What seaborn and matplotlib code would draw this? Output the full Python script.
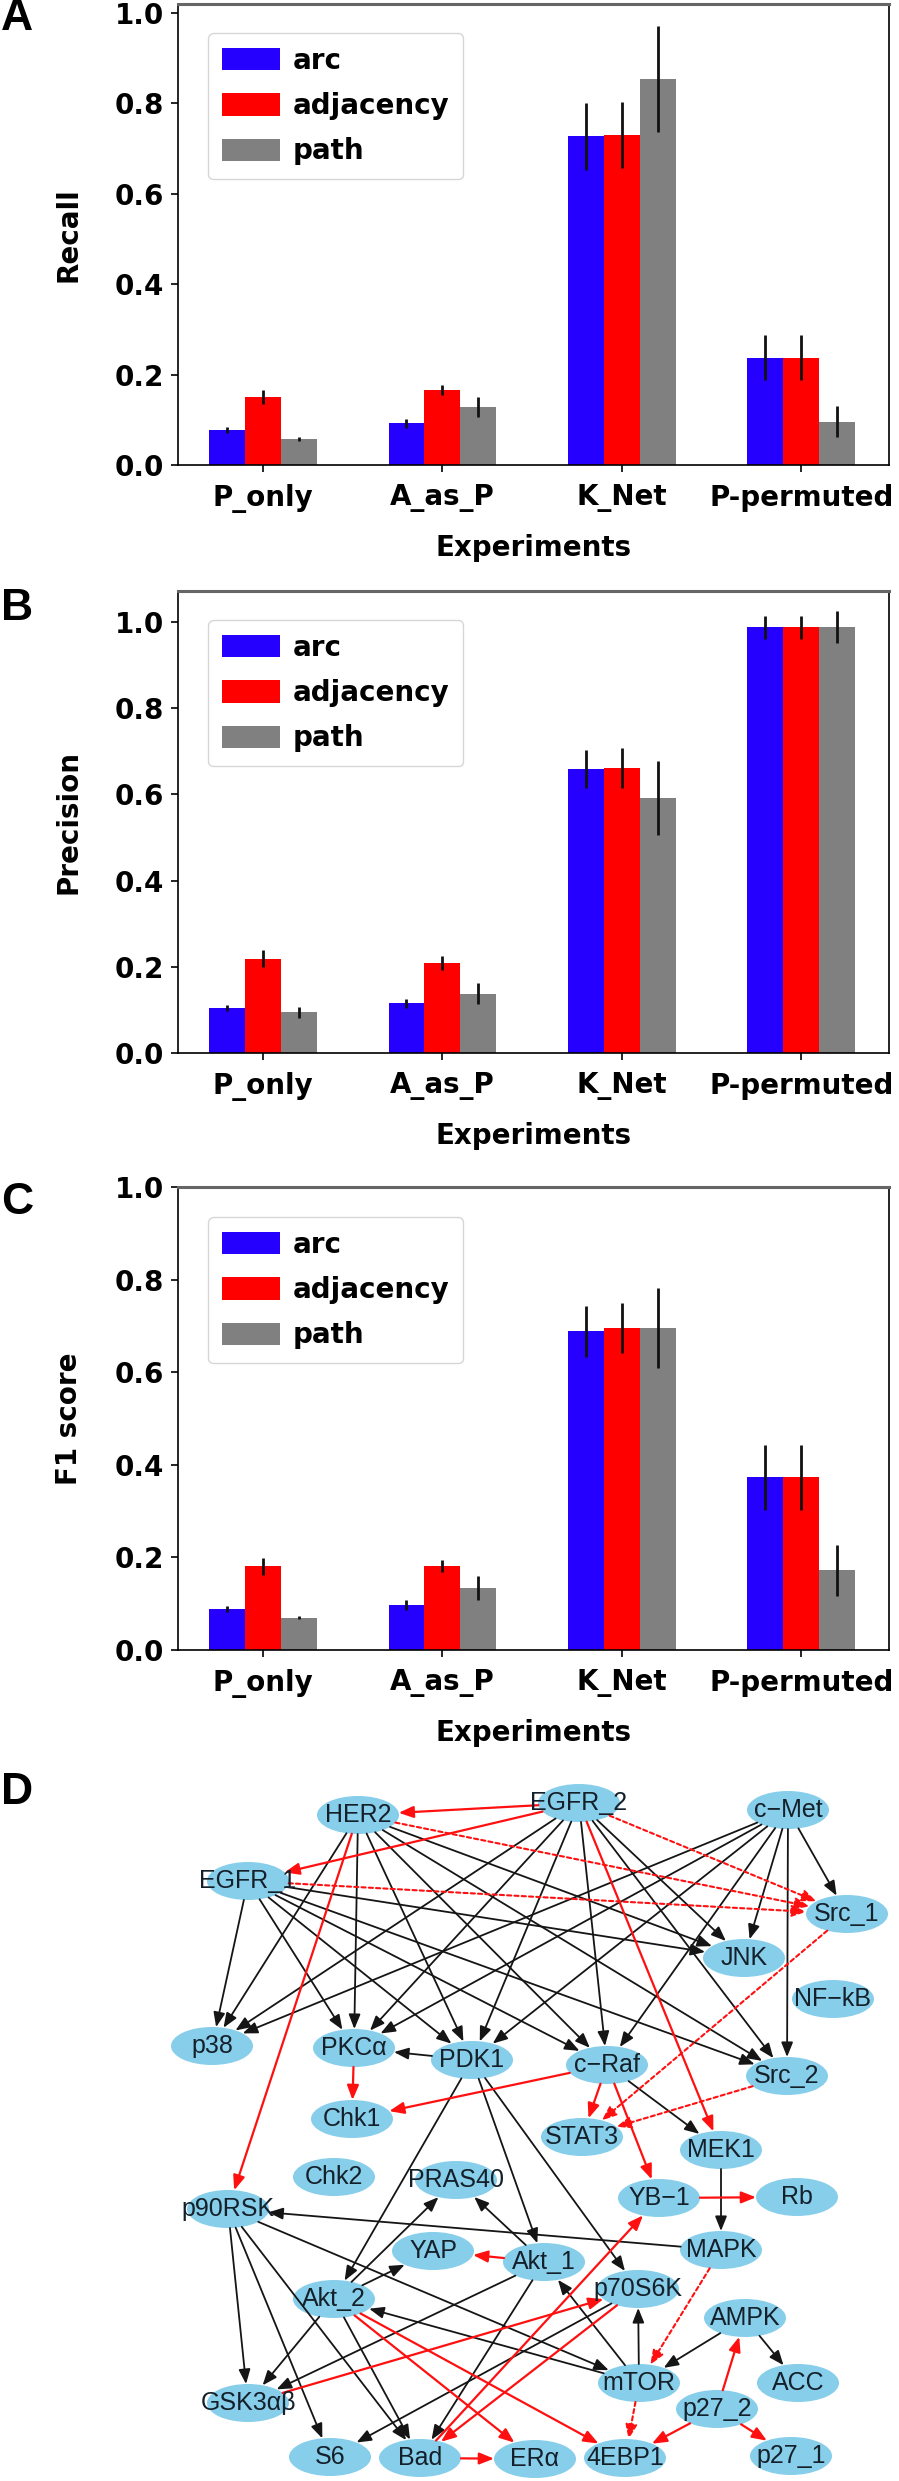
import matplotlib
matplotlib.use('Agg')
import matplotlib.pyplot as plt
import pandas as pd
import seaborn as sns
from matplotlib.patches import Ellipse

FIG_W, FIG_H = 899, 2481

experiments = ['P_only', 'A_as_P', 'K_Net', 'P-permuted']
methods = ['arc', 'adjacency', 'path']
colors = ['#2600ff', '#ff0000', '#808080']

recall = [[0.078, 0.092, 0.727, 0.237], [0.150, 0.165, 0.731, 0.237], [0.057, 0.128, 0.854, 0.096]]
recall_err = [[0.007, 0.010, 0.075, 0.050], [0.016, 0.011, 0.073, 0.050], [0.005, 0.022, 0.118, 0.035]]
precision = [[0.105, 0.115, 0.658, 0.988], [0.219, 0.209, 0.662, 0.988], [0.094, 0.138, 0.592, 0.988]]
precision_err = [[0.007, 0.011, 0.044, 0.027], [0.019, 0.017, 0.046, 0.027], [0.012, 0.025, 0.086, 0.037]]
f1 = [[0.089, 0.098, 0.688, 0.373], [0.181, 0.181, 0.695, 0.373], [0.070, 0.133, 0.695, 0.172]]
f1_err = [[0.006, 0.011, 0.055, 0.070], [0.018, 0.013, 0.054, 0.070], [0.004, 0.026, 0.086, 0.055]]

node_names = ['HER2', 'EGFR_2', 'c−Met', 'EGFR_1', 'Src_1', 'JNK', 'NF−kB', 'p38', 'PKCα', 'PDK1',
              'c−Raf', 'Src_2', 'Chk1', 'STAT3', 'MEK1', 'Chk2', 'PRAS40', 'YB−1', 'Rb', 'p90RSK',
              'MAPK', 'YAP', 'Akt_1', 'p70S6K', 'Akt_2', 'AMPK', 'mTOR', 'ACC', 'p27_2', 'GSK3αβ',
              'S6', 'Bad', 'ERα', '4EBP1', 'p27_1']
node_x = [358, 579, 788, 248, 847, 744, 833, 212, 354, 472,
          607, 787, 352, 582, 721, 334, 456, 659, 797, 228,
          721, 433, 544, 638, 334, 745, 639, 798, 717, 248,
          330, 420, 535, 625, 791]
node_y = [1815, 1803, 1810, 1881, 1914, 1958, 1999, 2046, 2048, 2060,
          2065, 2076, 2119, 2137, 2150, 2177, 2180, 2198, 2197, 2209,
          2250, 2251, 2262, 2289, 2299, 2318, 2383, 2383, 2409, 2403,
          2457, 2458, 2459, 2458, 2456]

black_edges = [('HER2', 'p38'), ('HER2', 'PKCα'), ('HER2', 'PDK1'), ('HER2', 'c−Raf'), ('HER2', 'JNK'), ('HER2', 'Src_2'),
               ('EGFR_2', 'p38'), ('EGFR_2', 'PKCα'), ('EGFR_2', 'PDK1'), ('EGFR_2', 'c−Raf'), ('EGFR_2', 'JNK'), ('EGFR_2', 'Src_2'),
               ('c−Met', 'p38'), ('c−Met', 'PKCα'), ('c−Met', 'PDK1'), ('c−Met', 'c−Raf'), ('c−Met', 'JNK'), ('c−Met', 'Src_1'), ('c−Met', 'Src_2'),
               ('EGFR_1', 'p38'), ('EGFR_1', 'PKCα'), ('EGFR_1', 'PDK1'), ('EGFR_1', 'c−Raf'), ('EGFR_1', 'JNK'), ('EGFR_1', 'Src_2'),
               ('PDK1', 'PKCα'), ('PDK1', 'Akt_1'), ('PDK1', 'Akt_2'), ('PDK1', 'p70S6K'),
               ('c−Raf', 'MEK1'), ('MEK1', 'MAPK'), ('MAPK', 'p90RSK'),
               ('Akt_1', 'PRAS40'), ('Akt_2', 'PRAS40'), ('Akt_2', 'YAP'),
               ('p90RSK', 'GSK3αβ'), ('p90RSK', 'S6'), ('p90RSK', 'Bad'), ('p90RSK', 'mTOR'),
               ('Akt_2', 'GSK3αβ'), ('Akt_2', 'Bad'), ('Akt_1', 'GSK3αβ'), ('Akt_1', 'Bad'),
               ('mTOR', 'Akt_1'), ('mTOR', 'Akt_2'), ('mTOR', 'p70S6K'),
               ('AMPK', 'mTOR'), ('AMPK', 'ACC'), ('p70S6K', 'S6')]
red_edges = [('EGFR_2', 'HER2'), ('EGFR_2', 'EGFR_1'), ('HER2', 'p90RSK'), ('EGFR_2', 'MEK1'),
             ('PKCα', 'Chk1'), ('c−Raf', 'Chk1'), ('c−Raf', 'STAT3'), ('c−Raf', 'YB−1'), ('YB−1', 'Rb'),
             ('Akt_1', 'YAP'), ('GSK3αβ', 'p70S6K'), ('Bad', 'YB−1'), ('p70S6K', 'Bad'),
             ('Akt_2', 'ERα'), ('Akt_2', '4EBP1'), ('Bad', 'ERα'),
             ('p27_2', 'AMPK'), ('p27_2', '4EBP1'), ('p27_2', 'p27_1')]
dashed_edges = [('HER2', 'Src_1'), ('EGFR_2', 'Src_1'), ('EGFR_1', 'Src_1'), ('Src_1', 'STAT3'),
                ('Src_2', 'STAT3'), ('MAPK', 'mTOR'), ('mTOR', '4EBP1')]


def make_axes(fig, left, top, right, bottom):
    # pixel box of the picture -> figure fractions
    return fig.add_axes([left / FIG_W, 1 - bottom / FIG_H, (right - left) / FIG_W, (bottom - top) / FIG_H])


def bar_panel(fig, box, values, errors, ylabel, ymax, legend_top):
    rows = []
    for m, series in zip(methods, values):
        for e, v in zip(experiments, series):
            rows.append({'Experiments': e, 'method': m, 'value': v})
    df = pd.DataFrame(rows)
    ax = make_axes(fig, *box)
    sns.barplot(data=df, x='Experiments', y='value', hue='method', order=experiments, hue_order=methods,
                palette=colors, saturation=1, width=0.6, gap=0, errorbar=None, linewidth=0, ax=ax)
    for container, errs in zip(ax.containers, errors):
        for bar, err in zip(container, errs):
            ax.errorbar(bar.get_x() + bar.get_width() / 2, bar.get_height(), yerr=err, color='#111111',
                        elinewidth=2, capsize=0, zorder=5)
    ax.set_xlim(-0.473, 3.489)
    ax.set_ylim(0, ymax)
    ax.set_yticks([0, 0.2, 0.4, 0.6, 0.8, 1.0])
    ax.tick_params(length=5, width=1.2, labelsize=20, pad=5)
    ax.tick_params(axis='x', pad=9)
    for lab in ax.get_xticklabels() + ax.get_yticklabels():
        lab.set_fontweight('bold')
    ax.set_xlabel('Experiments', fontsize=20, fontweight='bold', labelpad=15)
    ax.set_ylabel(ylabel, fontsize=20, fontweight='bold', labelpad=23)
    for s in ax.spines.values():
        s.set_linewidth(1.2)
    ax.spines['top'].set_linewidth(2.2)
    ax.spines['top'].set_color('#666666')
    handles, labels = ax.get_legend_handles_labels()
    ax.legend(handles, labels, loc='upper left', bbox_to_anchor=(208 / FIG_W, 1 - legend_top / FIG_H),
              bbox_transform=fig.transFigure, borderaxespad=0, prop={'size': 20, 'weight': 'bold'},
              labelspacing=0.62, handlelength=2.1, handleheight=0.85, handletextpad=0.45, borderpad=0.5)
    return ax


def network_panel(fig):
    ax = fig.add_axes([0, 0, 1, 1], facecolor='none')
    ax.set_xlim(0, FIG_W)
    ax.set_ylim(FIG_H, 0)
    ax.axis('off')
    patches = {}
    for name, x, y in zip(node_names, node_x, node_y):
        el = Ellipse((x, y), 82, 38, facecolor='#87ceeb', edgecolor='none', zorder=2)
        ax.add_patch(el)
        patches[name] = el
        ax.text(x, y, name, ha='center', va='center', fontsize=18, family='Liberation Sans',
                color='#14202a', zorder=4)
    pos = dict(zip(node_names, zip(node_x, node_y)))

    def draw_edges(edges, color, ls, lw):
        for a, b in edges:
            ax.annotate('', xy=pos[b], xytext=pos[a], zorder=3,
                        arrowprops=dict(arrowstyle='-|>,head_length=0.55,head_width=0.22', color=color, lw=lw,
                                        linestyle=ls, patchA=patches[a], patchB=patches[b],
                                        shrinkA=0, shrinkB=0, mutation_scale=16))

    draw_edges(black_edges, '#151515', '-', 1.3)
    draw_edges(red_edges, '#ff1010', '-', 1.6)
    draw_edges(dashed_edges, '#ff1010', (0, (2, 1.5)), 1.5)
    return ax


def main():
    plt.rcParams['font.family'] = 'DejaVu Sans'
    fig = plt.figure(figsize=(FIG_W / 100, FIG_H / 100), dpi=100)
    bar_panel(fig, (178, 4, 889, 465), recall, recall_err, 'Recall', 1.02, 33)
    bar_panel(fig, (178, 591, 889, 1053), precision, precision_err, 'Precision', 1.072, 620)
    bar_panel(fig, (178, 1187, 889, 1650), f1, f1_err, 'F1 score', 1.0, 1217)
    network_panel(fig)
    for letter, y in zip(['A', 'B', 'C', 'D'], [19, 609, 1203, 1792]):
        fig.text(1 / FIG_W, 1 - y / FIG_H, letter, fontsize=32, fontweight='bold', family='Liberation Sans',
                 ha='left', va='center')
    fig.savefig('out.png', dpi=100)


if __name__ == "__main__":
    main()
